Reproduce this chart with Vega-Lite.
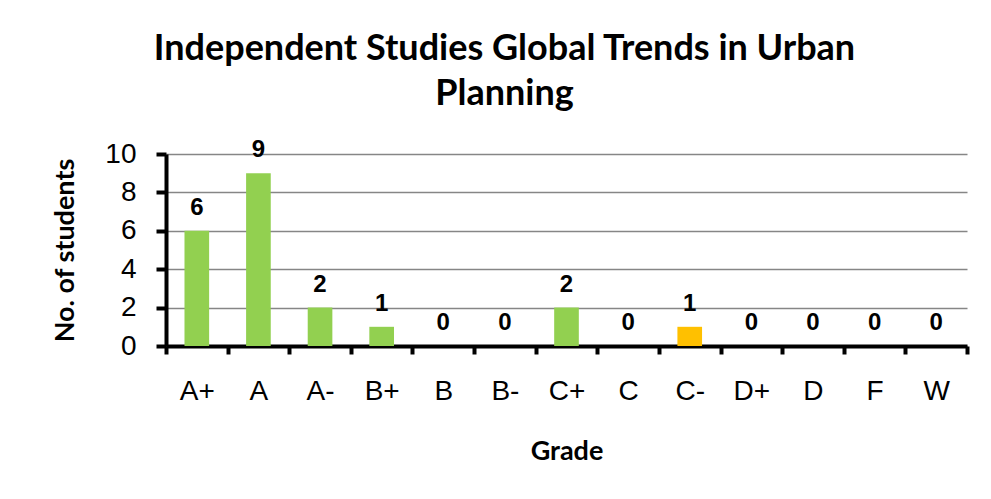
{
  "$schema": "https://vega.github.io/schema/vega-lite/v6.json",
  "autosize": "none",
  "width": 801,
  "height": 192,
  "padding": {"left": 166, "top": 154, "right": 24, "bottom": 153},
  "background": "white",
  "title": {
    "text": ["Independent Studies Global Trends in Urban", "Planning"],
    "font": "Lato",
    "fontSize": 36,
    "fontWeight": "bold",
    "color": "black",
    "anchor": "middle",
    "dx": -62,
    "offset": 25,
    "lineHeight": 45
  },
  "data": {
    "values": [
      {"grade": "A+", "students": 6},
      {"grade": "A", "students": 9},
      {"grade": "A-", "students": 2},
      {"grade": "B+", "students": 1},
      {"grade": "B", "students": 0},
      {"grade": "B-", "students": 0},
      {"grade": "C+", "students": 2},
      {"grade": "C", "students": 0},
      {"grade": "C-", "students": 1},
      {"grade": "D+", "students": 0},
      {"grade": "D", "students": 0},
      {"grade": "F", "students": 0},
      {"grade": "W", "students": 0}
    ]
  },
  "encoding": {
    "x": {
      "field": "grade",
      "type": "nominal",
      "sort": null,
      "scale": {"padding": 0},
      "axis": {
        "title": "Grade",
        "titleFont": "Lato",
        "titleFontSize": 27,
        "titleFontWeight": "bold",
        "titleColor": "black",
        "titlePadding": 33,
        "labelAngle": 0,
        "labelFont": "Liberation Sans",
        "labelFontSize": 28,
        "labelColor": "black",
        "labelPadding": 23,
        "tickBand": "extent",
        "tickColor": "black",
        "tickWidth": 4,
        "tickSize": 8,
        "domainColor": "black",
        "domainWidth": 4,
        "grid": false
      }
    },
    "y": {
      "field": "students",
      "type": "quantitative",
      "scale": {"domain": [0, 10]},
      "axis": {
        "title": "No. of students",
        "titleFont": "Lato",
        "titleFontSize": 27,
        "titleFontWeight": "bold",
        "titleColor": "black",
        "titlePadding": 25,
        "values": [0, 2, 4, 6, 8, 10],
        "labelFont": "Liberation Sans",
        "labelFontSize": 28,
        "labelColor": "black",
        "labelPadding": 20,
        "tickColor": "black",
        "tickWidth": 4,
        "tickSize": 10,
        "domainColor": "black",
        "domainWidth": 4,
        "gridColor": "#868686",
        "gridWidth": 1.5
      }
    }
  },
  "layer": [
    {
      "mark": {"type": "bar", "width": {"band": 0.4}},
      "encoding": {
        "color": {
          "condition": {"test": "datum.grade === 'C-'", "value": "#FFC000"},
          "value": "#92D050"
        }
      }
    },
    {
      "mark": {
        "type": "text",
        "font": "Liberation Sans",
        "fontSize": 24,
        "fontWeight": "bold",
        "color": "black",
        "baseline": "alphabetic",
        "dy": -16
      },
      "encoding": {"text": {"field": "students", "type": "quantitative"}}
    }
  ],
  "config": {"view": {"stroke": null}}
}
